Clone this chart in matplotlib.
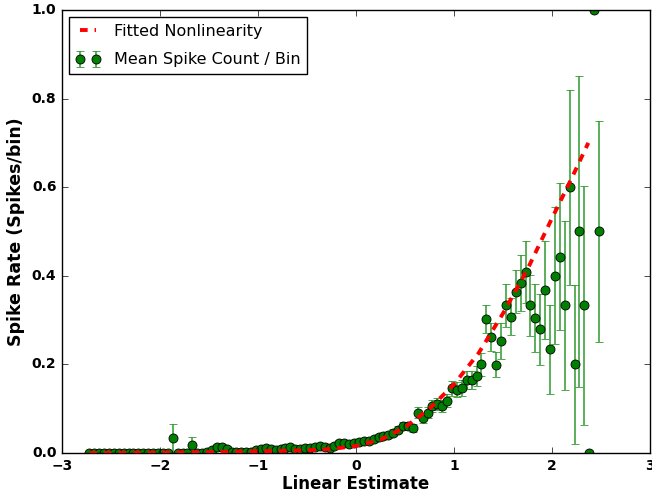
import matplotlib
matplotlib.use('Agg')
import matplotlib.pyplot as plt

# bin centres of the linear estimate
bin_x = [-2.72, -2.67, -2.62, -2.57, -2.52, -2.47, -2.42, -2.37, -2.32, -2.27,
         -2.22, -2.17, -2.12, -2.07, -2.02, -1.97, -1.92, -1.87, -1.82, -1.77,
         -1.72, -1.67, -1.62, -1.57, -1.52, -1.47, -1.42, -1.37, -1.32, -1.27,
         -1.22, -1.17, -1.12, -1.07, -1.02, -0.97, -0.92, -0.87, -0.82, -0.77,
         -0.72, -0.67, -0.62, -0.57, -0.52, -0.47, -0.42, -0.37, -0.32, -0.27,
         -0.22, -0.17, -0.12, -0.07, -0.02, 0.03, 0.08, 0.13, 0.18, 0.23,
         0.28, 0.33, 0.38, 0.43, 0.48, 0.53, 0.58, 0.63, 0.68, 0.73,
         0.78, 0.83, 0.88, 0.93, 0.98, 1.03, 1.08, 1.13, 1.18, 1.23,
         1.28, 1.33, 1.38, 1.43, 1.48, 1.53, 1.58, 1.63, 1.68, 1.73,
         1.78, 1.83, 1.88, 1.93, 1.98, 2.03, 2.08, 2.13, 2.18, 2.23,
         2.28, 2.33, 2.38, 2.43, 2.48]

# mean spike count per bin
rate = [0.0, 0.0, 0.0, 0.0, 0.0, 0.0, 0.0, 0.0, 0.0, 0.0,
        0.0, 0.0, 0.0, 0.0, 0.0, 0.0, 0.0, 0.033, 0.0, 0.0,
        0.0, 0.018, 0.0, 0.0, 0.002, 0.007, 0.014, 0.014, 0.010, 0.003,
        0.002, 0.002, 0.002, 0.003, 0.006, 0.010, 0.012, 0.008, 0.006, 0.008,
        0.012, 0.014, 0.010, 0.010, 0.012, 0.012, 0.014, 0.015, 0.013, 0.012,
        0.016, 0.023, 0.022, 0.020, 0.022, 0.025, 0.028, 0.026, 0.031, 0.035,
        0.038, 0.040, 0.046, 0.053, 0.061, 0.062, 0.057, 0.091, 0.078, 0.091,
        0.106, 0.111, 0.106, 0.118, 0.146, 0.143, 0.146, 0.164, 0.165, 0.174,
        0.200, 0.302, 0.262, 0.199, 0.253, 0.333, 0.308, 0.364, 0.383, 0.408,
        0.333, 0.304, 0.279, 0.368, 0.234, 0.400, 0.443, 0.333, 0.600, 0.200,
        0.500, 0.333, 0.0, 1.0, 0.500]

rate_err = [0.0, 0.0, 0.0, 0.0, 0.0, 0.0, 0.0, 0.0, 0.0, 0.0,
            0.0, 0.0, 0.0, 0.0, 0.0, 0.0, 0.0, 0.033, 0.0, 0.0,
            0.0, 0.017, 0.0, 0.0, 0.002, 0.005, 0.006, 0.006, 0.005, 0.003,
            0.002, 0.002, 0.002, 0.003, 0.004, 0.005, 0.005, 0.004, 0.004, 0.004,
            0.005, 0.005, 0.004, 0.004, 0.004, 0.004, 0.005, 0.005, 0.004, 0.004,
            0.005, 0.006, 0.006, 0.005, 0.005, 0.006, 0.006, 0.006, 0.006, 0.007,
            0.007, 0.007, 0.008, 0.008, 0.009, 0.009, 0.009, 0.012, 0.011, 0.012,
            0.013, 0.014, 0.014, 0.015, 0.017, 0.017, 0.018, 0.020, 0.020, 0.022,
            0.026, 0.032, 0.031, 0.028, 0.040, 0.048, 0.042, 0.048, 0.063, 0.070,
            0.069, 0.077, 0.080, 0.110, 0.100, 0.155, 0.166, 0.190, 0.220, 0.180,
            0.350, 0.270, 0.0, 0.0, 0.250]

# fitted nonlinearity
fit_x = [-2.72, -2.0, -1.5, -1.0, -0.5, -0.25, 0.0, 0.25, 0.5, 0.75,
         1.0, 1.25, 1.5, 1.75, 2.0, 2.2, 2.37]
fit_y = [0.0, 0.001, 0.002, 0.004, 0.006, 0.009, 0.016, 0.030, 0.058, 0.100,
         0.155, 0.225, 0.315, 0.415, 0.530, 0.620, 0.700]

plt.style.use('classic')
plt.rcParams['font.family'] = 'DejaVu Sans'

fig = plt.figure(figsize=(6.52, 4.98), dpi=100, facecolor='white')
ax = fig.add_axes([0.095, 0.0904, 0.902, 0.8896])

ax.plot(fit_x, fit_y, 'r--', lw=2.8, dashes=(5.5, 5), zorder=3,
        label='Fitted Nonlinearity')
ax.errorbar(bin_x, rate, yerr=rate_err, fmt='o', color='g', ecolor='#2f9a2f',
            mec='k', mew=0.6, ms=6.5, capsize=3, elinewidth=1.1,
            label='Mean Spike Count / Bin')

ax.set_xlim(-3, 3)
ax.set_ylim(0, 1.0)
ax.set_xticks([-3, -2, -1, 0, 1, 2, 3])
ax.set_yticks([0.0, 0.2, 0.4, 0.6, 0.8, 1.0])
ax.tick_params(labelsize=10)
for lab in ax.get_xticklabels() + ax.get_yticklabels():
    lab.set_fontweight('bold')

ax.set_xlabel('Linear Estimate', fontsize=12, fontweight='bold', labelpad=2)
ax.set_ylabel('Spike Rate (Spikes/bin)', fontsize=12.5, fontweight='bold')

ax.legend(loc='upper left', numpoints=2, fontsize=11.5, labelspacing=0.85,
          borderaxespad=0.45, handlelength=1.6)

fig.savefig('out.png', dpi=100, facecolor='white')
